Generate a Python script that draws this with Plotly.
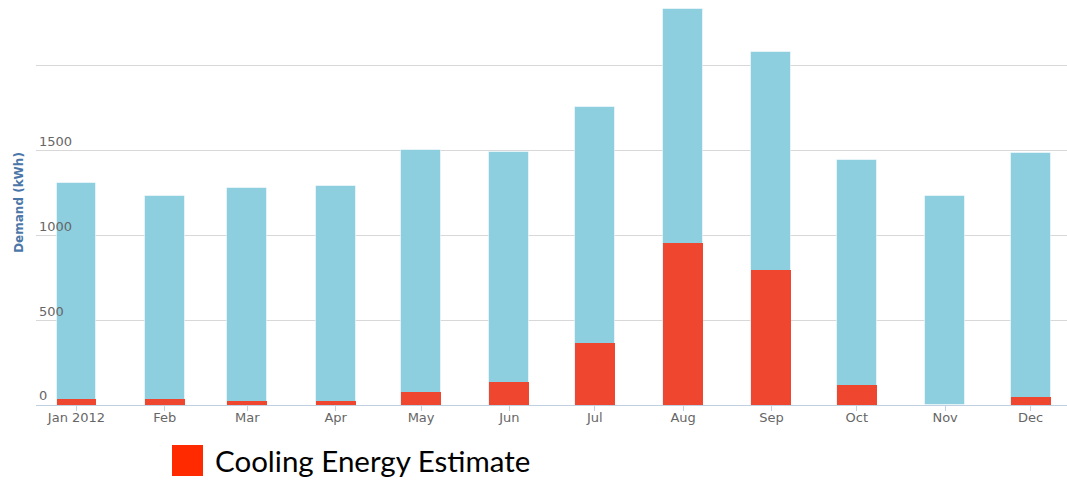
import plotly.graph_objects as go

months = ["2012-01-01", "2012-02-01", "2012-03-01", "2012-04-01", "2012-05-01", "2012-06-01",
          "2012-07-01", "2012-08-01", "2012-09-01", "2012-10-01", "2012-11-01", "2012-12-01"]
month_labels = ["Jan 2012", "Feb", "Mar", "Apr", "May", "Jun",
                "Jul", "Aug", "Sep", "Oct", "Nov", "Dec"]
total_demand = [1307, 1232, 1279, 1291, 1503, 1491, 1757, 2332, 2083, 1444, 1232, 1485]
cooling_estimate = [34, 35, 24, 24, 75, 134, 365, 955, 796, 118, 0, 49]
y_ticks = [0, 500, 1000, 1500, 2000]
y_tick_labels = ["0", "500", "1000", "1500", ""]
legend_label = "Cooling Energy Estimate"

DAY_MS = 86400000
bar_width = 14.0 * DAY_MS

BLUE = "#8ECFDF"
RED = "#EF4630"

fig = go.Figure()
fig.add_trace(go.Bar(x=months, y=total_demand, width=bar_width, name="Demand",
                     marker=dict(color=BLUE, line=dict(color="rgba(255,255,255,0.5)", width=1)),
                     showlegend=False))
fig.add_trace(go.Bar(x=months, y=cooling_estimate, width=bar_width, name=legend_label,
                     marker=dict(color=RED, line=dict(width=0)),
                     showlegend=False))

fig.update_layout(
    width=1067, height=480,
    margin=dict(l=36, r=0, t=0, b=75),
    barmode="overlay",
    plot_bgcolor="white", paper_bgcolor="white",
    font=dict(family="DejaVu Sans", size=13, color="#666666"),
    xaxis=dict(
        type="date",
        range=["2011-12-17 19:00", "2012-12-13 19:00"],
        tickvals=months, ticktext=month_labels,
        showgrid=False, showline=True, linecolor="#C0D0E0", linewidth=1,
        ticks="",
        minor=dict(ticks="outside", dtick="M1", tick0="2012-01-01", ticklen=5,
                   tickcolor="#C0D0E0", tickwidth=1, showgrid=False),
        tickfont=dict(family="DejaVu Sans", size=13, color="#666666"),
        zeroline=False, fixedrange=True,
    ),
    yaxis=dict(
        range=[0, 2387],
        tickvals=y_ticks, ticktext=y_tick_labels,
        ticklabelposition="inside top",
        showgrid=True, gridcolor="#D8D8D8", gridwidth=1,
        zeroline=False, showline=False, ticks="",
        tickfont=dict(family="DejaVu Sans", size=13, color="#666666"),
        title=dict(text="<b>Demand (kWh)</b>", standoff=12,
                   font=dict(family="DejaVu Sans", size=12, color="#4B76A8")),
    ),
    bargap=0,
)

fig.add_shape(type="rect", xref="paper", yref="paper",
              x0=(172 - 36) / 1031, x1=(203 - 36) / 1031,
              y0=(405 - 476) / 405, y1=(405 - 445) / 405,
              fillcolor="#FF2A00", line=dict(width=0))
fig.add_annotation(xref="paper", yref="paper",
                   x=(213 - 36) / 1031, y=(405 - 461) / 405,
                   xanchor="left", yanchor="middle", showarrow=False,
                   text=legend_label,
                   font=dict(family="Lato", size=29.5, color="#000000"))

fig.write_html("out.html")
